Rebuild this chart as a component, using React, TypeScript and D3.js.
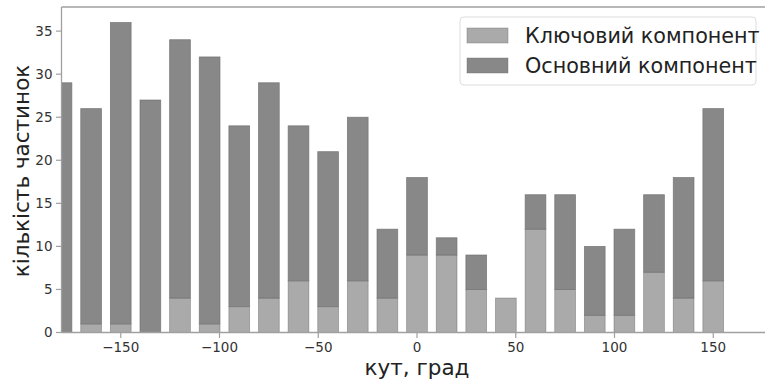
import * as d3 from "d3";

// bin centres, degrees
const angles = [-180, -165, -150, -135, -120, -105, -90, -75, -60, -45, -30, -15, 0, 15, 30, 45, 60, 75, 90, 105, 120, 135, 150];
// light part (key component) and total height of each bar
const keyCounts = [0, 1, 1, 0, 4, 1, 3, 4, 6, 3, 6, 4, 9, 9, 5, 4, 12, 5, 2, 2, 7, 4, 6];
const totalCounts = [29, 26, 36, 27, 34, 32, 24, 29, 24, 21, 25, 12, 18, 11, 9, 4, 16, 16, 10, 12, 16, 18, 26];
const xTicks = [-150, -100, -50, 0, 50, 100, 150];
const yTicks = [0, 5, 10, 15, 20, 25, 30, 35];
const seriesNames = ["Ключовий компонент", "Основний компонент"];

const W = 765;
const H = 383;
const margin = { top: 7, left: 61.5, bottom: 50.5 };
const plotRight = 772.5; // axes run past the right edge of the picture

const light = "#aaaaaa";
const dark = "#888888";
const edge = "#6f6f6f";
const spine = "#a0a0a0";
const font = "DejaVu Sans";

export default function App() {
  const x = d3.scaleLinear().domain([-180, 180]).range([margin.left, plotRight]);
  const y = d3.scaleLinear().domain([0, 37.8]).range([H - margin.bottom, margin.top]);
  const barW = x(10.5) - x(0);
  const y0 = y(0);

  return (
    <svg width={W} height={H} style={{ position: "absolute", left: 0, top: 0, background: "#fff" }} fontFamily={font}>
      <defs>
        <clipPath id="plot">
          <rect x={margin.left} y={margin.top} width={plotRight - margin.left} height={y0 - margin.top} />
        </clipPath>
      </defs>

      <g clipPath="url(#plot)">
        {angles.map((a, i) => {
          const bx = x(a) - barW / 2;
          const k = keyCounts[i];
          const t = totalCounts[i];
          return (
            <g key={a}>
              {k > 0 && (
                <rect x={bx} y={y(k)} width={barW} height={y0 - y(k)} fill={light} stroke={edge} strokeWidth={0.8} strokeOpacity={0.6} />
              )}
              {t > k && (
                <rect x={bx} y={y(t)} width={barW} height={y(k) - y(t)} fill={dark} stroke={edge} strokeWidth={0.8} strokeOpacity={0.8} />
              )}
            </g>
          );
        })}
      </g>

      {/* spines */}
      <line x1={margin.left} x2={margin.left} y1={margin.top} y2={y0} stroke={spine} strokeWidth={1.3} />
      <line x1={margin.left} x2={plotRight} y1={y0} y2={y0} stroke={spine} strokeWidth={1.3} />
      <line x1={margin.left} x2={plotRight} y1={margin.top} y2={margin.top} stroke={spine} strokeWidth={1.3} />

      {/* y axis */}
      {yTicks.map(t => (
        <g key={t} transform={`translate(0,${y(t)})`}>
          <line x1={margin.left - 5.5} x2={margin.left} stroke={spine} strokeWidth={1.2} />
          <text x={margin.left - 9} dy="0.35em" textAnchor="end" fontSize={13.5} fill="#333">{t}</text>
        </g>
      ))}
      <text transform={`translate(28.5,171) rotate(-90)`} textAnchor="middle" fontSize={21.5} fill="#222">кількість частинок</text>

      {/* x axis */}
      {xTicks.map(t => (
        <g key={t} transform={`translate(${x(t)},0)`}>
          <line y1={y0} y2={y0 + 5.5} stroke={spine} strokeWidth={1.2} />
          <text y={y0 + 19} textAnchor="middle" fontSize={13.5} fill="#333">{t < 0 ? `\u2212${-t}` : t}</text>
        </g>
      ))}
      <text x={x(0)} y={375} textAnchor="middle" fontSize={21.5} fill="#222">кут, град</text>

      {/* legend */}
      <g>
        <rect x={460} y={17} width={296} height={68} rx={4} fill="#fff" fillOpacity={0.8} stroke="#dddddd" strokeWidth={1} />
        {seriesNames.map((name, i) => (
          <g key={name} transform={`translate(0,${35.5 + i * 30})`}>
            <rect x={467} y={-7.5} width={41} height={15} fill={i === 0 ? light : dark} stroke={edge} strokeWidth={0.8} strokeOpacity={0.5} />
            <text x={525} y={7.5} fontSize={20.7} fill="#222">{name}</text>
          </g>
        ))}
      </g>
    </svg>
  );
}
